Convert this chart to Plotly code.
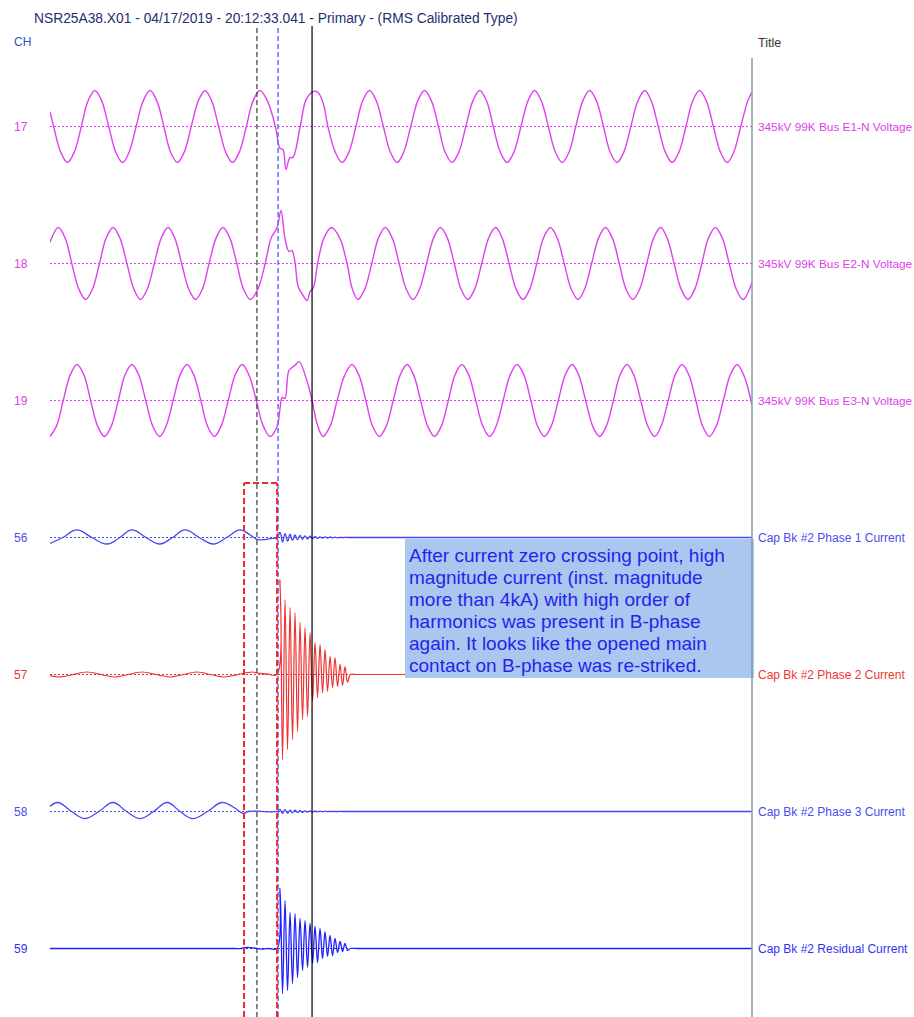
import plotly.graph_objects as go

# ---------------------------------------------------------------------------
# Record: NSR25A38.X01  04/17/2019 20:12:33.041   (time in ms, kV / kA primary)
# Waveforms are given as knot points (peaks, zero crossings, troughs, spikes).
# ---------------------------------------------------------------------------
T_END = 212.7

# CH17 - 345kV 99K Bus E1-N Voltage (kV)
t_e1 = [0, 1.1, 3.2, 5.3, 7.4, 9.5, 11.5, 13.6, 15.7, 17.8, 19.9, 22.0, 24.0, 26.1,
        28.2, 30.3, 32.4, 34.5, 36.5, 38.6, 40.7, 42.8, 44.9, 47.0, 49.0, 51.1, 53.2,
        55.3, 57.4, 59.5, 61.5, 63.6, 65.9, 68.3,
        69.7, 70.6, 71.5, 72.7, 73.6, 75.8, 77.6, 79.7, 81.2, 82.8, 84.2, 86.4,
        88.5, 90.6, 92.7, 94.7, 96.8, 98.9, 101.0, 103.1, 105.2, 107.2, 109.3, 111.4,
        113.5, 115.6, 117.7, 119.7, 121.8, 123.9, 126.0, 128.1, 130.2, 132.3, 134.3,
        136.4, 138.5, 140.6, 142.7, 144.8, 146.8, 148.9, 151.0, 153.1, 155.2, 157.3,
        159.3, 161.4, 163.5, 165.6, 167.7, 169.7, 171.8, 173.9, 176.0, 178.1, 180.2,
        182.2, 184.3, 186.4, 188.5, 190.6, 192.7, 194.7, 196.8, 198.9, 201.0, 203.1,
        205.2, 207.2, 209.3, 211.4, 212.7]
v_e1 = [117, 0, -199, -282, -199, 0, 199, 282, 199, 0, -199, -282, -199, 0,
        199, 282, 199, 0, -199, -282, -199, 0, 199, 282, 199, 0, -199,
        -282, -199, 0, 199, 282, 199, 0,
        -172, -180, -337, -243, -243, 0, 211, 274, 266, 180, 0, -199,
        -282, -199, 0, 199, 282, 199, 0, -199, -282, -199, 0, 199,
        282, 199, 0, -199, -282, -199, 0, 199, 282, 199, 0,
        -199, -282, -199, 0, 199, 282, 199, 0, -199, -282, -199,
        0, 199, 282, 199, 0, -199, -282, -199, 0, 199, 282,
        199, 0, -199, -282, -199, 0, 199, 282, 199, 0, -199,
        -282, -199, 0, 199, 270]

# CH18 - 345kV 99K Bus E2-N Voltage (kV)
t_e2 = [0, 2.5, 4.6, 6.6, 8.7, 10.8, 12.9, 15.0, 17.0, 19.1, 21.2, 23.3, 25.4, 27.4,
        29.5, 31.6, 33.7, 35.8, 37.8, 39.9, 42.0, 44.1, 46.2, 48.2, 50.3, 52.4, 54.5,
        56.6, 58.6, 60.7, 63.0, 65.2, 67.0,
        68.8, 70.0, 71.2, 72.4, 73.3, 74.2, 75.2, 76.7, 77.9, 78.8, 79.7, 81.2, 83.0,
        85.3, 87.8, 90.0, 91.6,
        93.3, 95.4, 97.5, 99.5, 101.6, 103.7, 105.8, 107.9, 110.0, 112.0, 114.1, 116.2,
        118.3, 120.4, 122.5, 124.5, 126.6, 128.7, 130.8, 132.9, 135.0, 137.0, 139.1,
        141.2, 143.3, 145.4, 147.5, 149.5, 151.6, 153.7, 155.8, 157.9, 160.0, 162.0,
        164.1, 166.2, 168.3, 170.4, 172.5, 174.5, 176.6, 178.7, 180.8, 182.9, 185.0,
        187.0, 189.1, 191.2, 193.3, 195.4, 197.5, 199.5, 201.6, 203.7, 205.8, 207.9,
        210.0, 212.7]
v_e2 = [166, 282, 199, 0, -199, -282, -199, 0, 199, 282, 199, 0, -199, -282,
        -199, 0, 199, 282, 199, 0, -199, -282, -199, 0, 199, 282, 199,
        0, -199, -282, -199, 0, 199,
        282, 415, 196, 94, 102, 16, -180, -251, -290, -219, -196, 16, 199,
        282, 199, 0, -199,
        -282, -199, 0, 199, 282, 199, 0, -199, -282, -199, 0, 199,
        282, 199, 0, -199, -282, -199, 0, 199, 282, 199, 0,
        -199, -282, -199, 0, 199, 282, 199, 0, -199, -282, -199,
        0, 199, 282, 199, 0, -199, -282, -199, 0, 199, 282,
        199, 0, -199, -282, -199, 0, 199, 282, 199, 0, -199,
        -282, -148]

# CH19 - 345kV 99K Bus E3-N Voltage (kV)
t_e3 = [0, 2.0, 4.0, 6.1, 8.2, 10.3, 12.3, 14.4, 16.5, 18.6, 20.7, 22.7, 24.8, 26.9,
        29.0, 31.1, 33.2, 35.2, 37.3, 39.4, 41.5, 43.6, 45.7, 47.7, 49.8, 51.9, 54.0,
        56.1, 58.2, 60.3, 62.5, 64.6, 66.7,
        68.8, 69.7, 70.3, 71.2, 72.4, 74.2, 75.5, 77.9, 79.4, 80.9, 82.7, 84.9, 87.0,
        89.3,
        91.5, 93.6, 95.7, 97.7, 99.8, 101.9, 104.0, 106.1, 108.2, 110.2, 112.3, 114.4,
        116.5, 118.6, 120.7, 122.7, 124.8, 126.9, 129.0, 131.1, 133.2, 135.2, 137.3,
        139.4, 141.5, 143.6, 145.7, 147.7, 149.8, 151.9, 154.0, 156.1, 158.2, 160.2,
        162.3, 164.4, 166.5, 168.6, 170.7, 172.7, 174.8, 176.9, 179.0, 181.1, 183.2,
        185.2, 187.3, 189.4, 191.5, 193.6, 195.7, 197.7, 199.8, 201.9, 204.0, 206.1,
        208.2, 210.2, 212.7]
v_e3 = [-282, -199, 0, 199, 282, 199, 0, -199, -282, -199, 0, 199, 282, 199,
        0, -199, -282, -199, 0, 199, 282, 199, 0, -199, -282, -199, 0,
        199, 282, 199, 0, -199, -282,
        -204, -63, 23, 16, 235, 274, 305, 149, 0, -180, -282, -199, 0,
        199,
        282, 199, 0, -199, -282, -199, 0, 199, 282, 199, 0, -199,
        -282, -199, 0, 199, 282, 199, 0, -199, -282, -199, 0,
        199, 282, 199, 0, -199, -282, -199, 0, 199, 282, 199,
        0, -199, -282, -199, 0, 199, 282, 199, 0, -199, -282,
        -199, 0, 199, 282, 199, 0, -199, -282, -199, 0, 199,
        282, 199, -35]

# Ringing after the restrike (shared sample instants, ms)
t_ring = [69.70, 70.45, 71.21, 71.97, 72.73, 73.48, 74.24, 75.00, 75.76, 76.52,
          77.27, 78.03, 78.79, 79.55, 80.30, 81.06, 81.82, 82.58, 83.33, 84.09,
          84.85, 85.61, 86.36, 87.12, 87.88, 88.64, 89.39, 90.15]
t_tail = [91.0, 93.0, 95.0, T_END]

# CH56 - Cap Bk #2 Phase 1 Current (kA)
t_i1 = [0, 3.9, 8.1, 12.7, 17.2, 21.2, 24.8, 29.1, 33.3, 37.1, 40.9, 45.2, 49.5, 53.5,
        57.6, 60.6, 62.7, 64.5, 66.7, 68.8] + t_ring + t_tail
v_i1 = [-0.33, 0, 0.42, 0, -0.36, 0, 0.42, 0, -0.36, 0, 0.42, 0, -0.36, 0,
        0.42, 0.15, -0.11, -0.12, -0.06, 0,
        0.28, -0.25, 0.22, -0.20, 0.18, -0.16, 0.14, -0.12, 0.11, -0.10,
        0.09, -0.08, 0.07, -0.06, 0.05, -0.05, 0.04, -0.04, 0.03, -0.03,
        0.03, -0.02, 0.02, -0.02, 0.01, -0.01, 0.01, 0.00,
        0, 0, 0, 0]

# CH57 - Cap Bk #2 Phase 2 Current (kA)
t_i2 = [0, 2.9, 7.0, 11.2, 15.4, 19.5, 23.7, 27.9, 32.1, 36.2, 40.4, 44.5, 48.7, 52.9,
        57.0, 61.2, 63.6, 66.0, 68.8] + t_ring + t_tail
v_i2 = [-0.06, -0.14, 0, 0.14, 0, -0.14, 0, 0.14, 0, -0.14, 0, 0.14, 0, -0.14,
        0, 0.14, 0.06, 0.02, 0,
        5.27, -4.72, 4.16, -4.16, 3.72, -3.61, 3.44, -3.16, 2.89, -2.50,
        2.61, -2.33, 2.33, -1.50, 1.78, -1.28, 1.67, -1.00, 1.39, -0.94,
        1.00, -0.72, 0.94, -0.67, 0.56, -0.61, 0.44, -0.44,
        0, 0, 0, 0]

# CH58 - Cap Bk #2 Phase 3 Current (kA)
t_i3 = [0, 2.4, 6.5, 10.6, 14.8, 19.1, 23.2, 27.3, 31.4, 35.5, 39.4, 43.3, 47.7, 52.1,
        55.5, 58.5, 60.0, 62.7, 68.8] + t_ring + t_tail
v_i3 = [0.28, 0.50, 0, -0.39, 0, 0.50, 0, -0.39, 0, 0.50, 0, -0.39, 0, 0.50,
        0.25, -0.11, 0, 0.02, 0,
        0.12, -0.10, 0.10, -0.09, 0.08, -0.07, 0.07, -0.06, 0.05, -0.05,
        0.04, -0.04, 0.03, -0.03, 0.03, -0.02, 0.02, -0.02, 0.02, -0.01,
        0.01, -0.01, 0.01, -0.01, 0.01, 0.00, 0.00, 0.00,
        0, 0, 0, 0]

# CH59 - Cap Bk #2 Residual Current (kA)
t_ir = [0, 56.0, 58.0, 59.5, 61.5, 62.7, 64.0, 66.0, 68.8] + t_ring + t_tail
v_ir = [0, 0, 0, 0.06, 0.04, 0, -0.03, 0, 0,
        3.33, -2.50, 2.66, -2.33, 2.00, -1.94, 1.94, -1.61, 1.67, -1.22,
        1.55, -1.05, 1.39, -0.83, 1.22, -0.78, 1.11, -0.56, 0.94, -0.44,
        0.72, -0.39, 0.56, -0.22, 0.39, -0.17, 0.28, -0.11,
        0, 0, 0, 0]

ch_numbers = ["17", "18", "19", "56", "57", "58", "59"]
ch_titles = ["345kV 99K Bus E1-N Voltage", "345kV 99K Bus E2-N Voltage",
             "345kV 99K Bus E3-N Voltage", "Cap Bk #2 Phase 1 Current",
             "Cap Bk #2 Phase 2 Current", "Cap Bk #2 Phase 3 Current",
             "Cap Bk #2 Residual Current"]
ch_times = [t_e1, t_e2, t_e3, t_i1, t_i2, t_i3, t_ir]
ch_values = [v_e1, v_e2, v_e3, v_i1, v_i2, v_i3, v_ir]

# Cursor / marker times (ms)
t_cursor_black_dash = 62.7
t_cursor_blue_dash = 69.1
t_cursor_solid = 79.4
t_window = (58.8, 68.8)

note_lines = ["After current zero crossing point, high",
              "magnitude current (inst. magnitude",
              "more than 4kA) with high order of",
              "harmonics was present in B-phase",
              "again. It looks like the opened main",
              "contact on B-phase was re-striked."]

header = "NSR25A38.X01 - 04/17/2019 - 20:12:33.041 - Primary - (RMS Calibrated Type)"

# ---------------------------------------------------------------------------
# Styling
# ---------------------------------------------------------------------------
VOLT = "#e040f0"
colors = [VOLT, VOLT, VOLT, "#4646f2", "#ee3030", "#4646f2", "#1f1fff"]
label_colors = ["#dd3ee9", "#dd3ee9", "#dd3ee9", "#4b4bf0", "#ee3636", "#4b4bf0", "#3030f5"]
label_sizes = [11.8, 11.8, 11.8, 12, 12, 12, 12]
half_scale = [537, 537, 537, 3.8, 3.8, 3.8, 3.8]   # value shown at half a row height
widths = [1.4, 1.4, 1.4, 1.3, 1.2, 1.3, 1.3]
smooth = [1.0, 1.0, 1.0, 1.2, 1.0, 1.2, 1.0]

W, H = 914, 1017
ML, MR, MT, MB = 50, 162, 58, 0
N = len(ch_numbers)

fig = go.Figure()
layout_axes = {}
for k in range(N):
    name = "y" if k == 0 else f"y{k + 1}"
    axkey = "yaxis" if k == 0 else f"yaxis{k + 1}"
    R = half_scale[k]
    lo = -(2 * (N - 1 - k) + 1) * R
    hi = (2 * k + 1) * R
    ax = dict(range=[lo, hi], domain=[0, 1], visible=False, fixedrange=True)
    if k > 0:
        ax["overlaying"] = "y"
    layout_axes[axkey] = ax
    fig.add_trace(go.Scatter(
        x=ch_times[k], y=ch_values[k], yaxis=name, mode="lines",
        line=dict(color=colors[k], width=widths[k], shape="spline", smoothing=smooth[k]),
        hoverinfo="skip", showlegend=False))

shapes = []
annotations = []

def px_to_paper_y(py):
    return (H - MB - py) / (H - MT - MB)

def px_to_paper_x(px):
    return (px - ML) / (W - ML - MR)

LABEL_FONT = "Liberation Sans"
for k in range(N):
    yref = "y" if k == 0 else f"y{k + 1}"
    # dotted zero line of each channel
    shapes.append(dict(type="line", xref="x", yref=yref, x0=0, x1=T_END, y0=0, y1=0,
                       line=dict(color=colors[k], width=1, dash="2px,2px"), layer="below"))
    annotations.append(dict(xref="paper", yref=yref, x=px_to_paper_x(12), y=0,
                            xanchor="left", yanchor="middle", showarrow=False,
                            text=ch_numbers[k],
                            font=dict(family=LABEL_FONT, size=12, color=label_colors[k])))
    annotations.append(dict(xref="paper", yref=yref, x=px_to_paper_x(756), y=0,
                            xanchor="left", yanchor="middle", showarrow=False,
                            text=ch_titles[k],
                            font=dict(family=LABEL_FONT, size=label_sizes[k],
                                      color=label_colors[k])))

top = px_to_paper_y(26)

# annotation box
shapes.append(dict(type="rect", xref="paper", yref="paper",
                   x0=px_to_paper_x(405), x1=px_to_paper_x(754),
                   y0=px_to_paper_y(678), y1=px_to_paper_y(539),
                   fillcolor="#abc6ef", line=dict(width=0), layer="above"))

# right border of the trace area
shapes.append(dict(type="line", xref="paper", yref="paper", x0=1, x1=1, y0=0, y1=1,
                   line=dict(color="#7c9fa3", width=1.5), layer="above"))

# cursors
shapes.append(dict(type="line", xref="x", yref="paper", x0=t_cursor_black_dash,
                   x1=t_cursor_black_dash, y0=0, y1=top,
                   line=dict(color="#3a3a3a", width=1.2, dash="5px,3px"), layer="above"))
shapes.append(dict(type="line", xref="x", yref="paper", x0=t_cursor_blue_dash,
                   x1=t_cursor_blue_dash, y0=0, y1=top,
                   line=dict(color="#6a6aff", width=1.5, dash="5px,3px"), layer="above"))
shapes.append(dict(type="line", xref="x", yref="paper", x0=t_cursor_solid,
                   x1=t_cursor_solid, y0=0, y1=top,
                   line=dict(color="#000000", width=1.2), layer="above"))

# dashed window around the current interruption
win_top = px_to_paper_y(483)
red = dict(color="#ee2a2a", width=2, dash="6px,3px")
shapes.append(dict(type="line", xref="x", yref="paper", x0=t_window[0], x1=t_window[0],
                   y0=0, y1=win_top, line=red, layer="above"))
shapes.append(dict(type="line", xref="x", yref="paper", x0=t_window[1], x1=t_window[1],
                   y0=0, y1=win_top, line=red, layer="above"))
shapes.append(dict(type="line", xref="x", yref="paper", x0=t_window[0], x1=t_window[1],
                   y0=win_top, y1=win_top, line=red, layer="above"))

note_y = [555, 577.5, 599.5, 621.5, 643.5, 665]
for line_text, py in zip(note_lines, note_y):
    annotations.append(dict(xref="paper", yref="paper", x=px_to_paper_x(407),
                            y=px_to_paper_y(py), xanchor="left", yanchor="middle",
                            align="left", showarrow=False, text=line_text,
                            font=dict(family="Liberation Sans", size=19, color="#2424ec")))
annotations.append(dict(xref="paper", yref="paper", x=px_to_paper_x(32),
                        y=px_to_paper_y(18), xanchor="left", yanchor="middle",
                        showarrow=False, text=header,
                        font=dict(family="Liberation Sans", size=13.8, color="#232f72")))
annotations.append(dict(xref="paper", yref="paper", x=px_to_paper_x(12),
                        y=px_to_paper_y(42), xanchor="left", yanchor="middle",
                        showarrow=False, text="CH",
                        font=dict(family="Liberation Sans", size=12, color="#3a4bc8")))
annotations.append(dict(xref="paper", yref="paper", x=px_to_paper_x(756),
                        y=px_to_paper_y(43), xanchor="left", yanchor="middle",
                        showarrow=False, text="Title",
                        font=dict(family="Liberation Sans", size=12.5, color="#333333")))

fig.update_layout(
    width=W, height=H,
    margin=dict(l=ML, r=MR, t=MT, b=MB, pad=0),
    paper_bgcolor="white", plot_bgcolor="white",
    xaxis=dict(range=[0, T_END], visible=False, fixedrange=True),
    shapes=shapes, annotations=annotations,
    showlegend=False,
    **layout_axes,
)

fig.write_html("out.html", config={"displayModeBar": False})
